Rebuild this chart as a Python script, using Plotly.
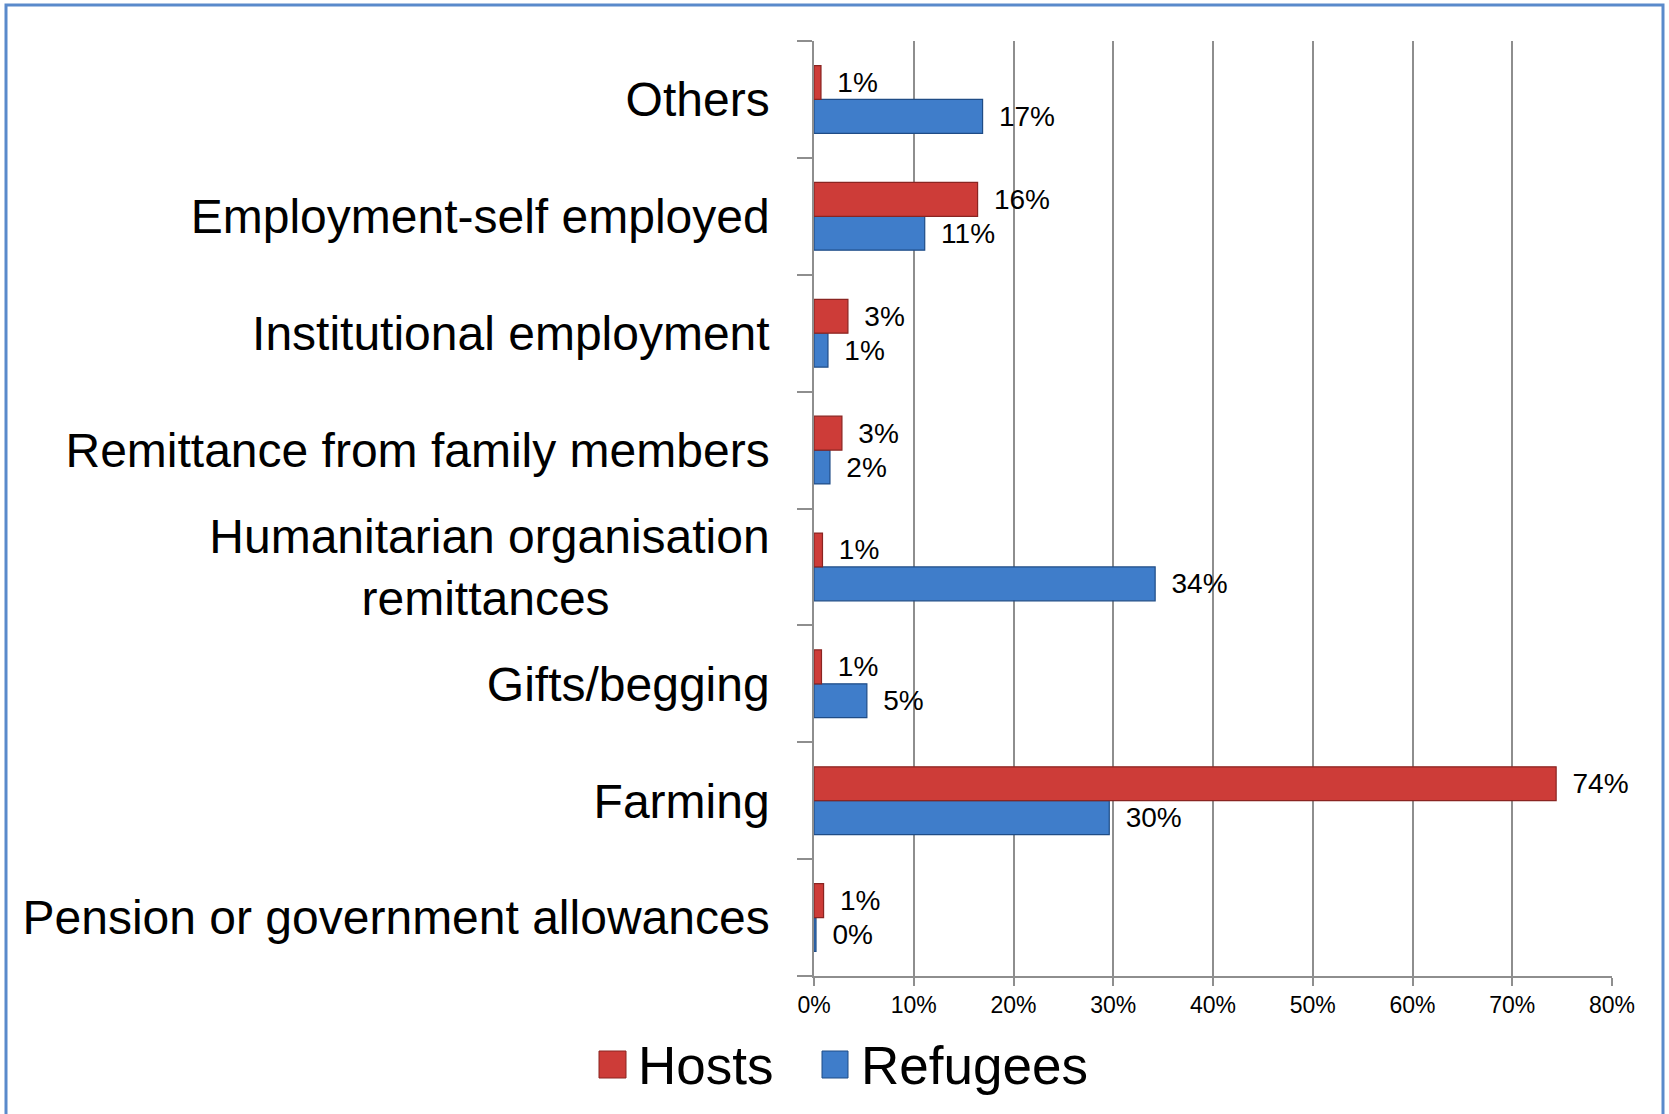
import plotly.graph_objects as go

categories = [
    "Pension or government allowances",
    "Farming",
    "Gifts/begging",
    "Humanitarian organisation<br>" + "\u00a0" * 12 + "remittances" + "\u00a0" * 12,
    "Remittance from family members",
    "Institutional employment",
    "Employment-self employed",
    "Others",
]
hosts = [0.96, 74.4, 0.75, 0.85, 2.8, 3.4, 16.4, 0.7]
refugees = [0.2, 29.6, 5.3, 34.2, 1.6, 1.4, 11.1, 16.9]
x_ticks = [0, 10, 20, 30, 40, 50, 60, 70, 80]

FONT = "Liberation Sans, Arial, sans-serif"
GRID = "#8E8E8E"
RED = "#CD3C38"
RED_EDGE = "#8A2421"
BLUE = "#3F7DCA"
BLUE_EDGE = "#1F4C86"

W, H = 1669, 1114
L, R, T, B = 814, 57, 41, 138
pw, ph = W - L - R, H - T - B


def px_x(x):
    return (x - L) / pw


def px_y(y):
    return (H - B - y) / ph


LABEL = "\u00a0\u2009%{x:.0f}%"

fig = go.Figure()
fig.add_trace(go.Bar(
    y=categories, x=refugees, name="Refugees", orientation="h",
    marker=dict(color=BLUE, line=dict(color=BLUE_EDGE, width=1.2)),
    texttemplate=LABEL, textposition="outside",
    textfont=dict(family=FONT, size=28, color="black"),
    constraintext="none", cliponaxis=False, showlegend=False,
))
fig.add_trace(go.Bar(
    y=categories, x=hosts, name="Hosts", orientation="h",
    marker=dict(color=RED, line=dict(color=RED_EDGE, width=1.2)),
    texttemplate=LABEL, textposition="outside",
    textfont=dict(family=FONT, size=28, color="black"),
    constraintext="none", cliponaxis=False, showlegend=False,
))

shapes = [
    # outer chart border
    dict(type="rect", xref="paper", yref="paper",
         x0=px_x(6), x1=px_x(1663), y0=px_y(1130), y1=px_y(5),
         line=dict(color="#5A8ACB", width=3), fillcolor="rgba(0,0,0,0)", layer="below"),
    # legend swatches
    dict(type="rect", xref="paper", yref="paper",
         x0=px_x(599), x1=px_x(626), y0=px_y(1078), y1=px_y(1051),
         line=dict(color=RED_EDGE, width=1), fillcolor=RED),
    dict(type="rect", xref="paper", yref="paper",
         x0=px_x(822), x1=px_x(848), y0=px_y(1078), y1=px_y(1051),
         line=dict(color=BLUE_EDGE, width=1), fillcolor=BLUE),
]
annotations = [
    dict(text="Hosts", xref="paper", yref="paper", x=px_x(636), y=px_y(1065),
         xanchor="left", yanchor="middle", showarrow=False,
         font=dict(family=FONT, size=53, color="black")),
    dict(text="Refugees", xref="paper", yref="paper", x=px_x(859), y=px_y(1065),
         xanchor="left", yanchor="middle", showarrow=False,
         font=dict(family=FONT, size=53, color="black")),
]

fig.update_layout(
    width=W, height=H,
    margin=dict(l=L, r=R, t=T, b=B),
    paper_bgcolor="white", plot_bgcolor="white",
    barmode="group", bargap=0.42, bargroupgap=0,
    font=dict(family=FONT, color="black"),
    shapes=shapes, annotations=annotations,
    showlegend=False,
    xaxis=dict(
        range=[0, 80], tickvals=x_ticks, ticktext=[f"{v}%" for v in x_ticks],
        showgrid=True, gridcolor=GRID, gridwidth=1.5,
        showline=True, linecolor=GRID, linewidth=1.5,
        ticks="outside", ticklen=8, tickcolor=GRID, tickwidth=1.5,
        tickfont=dict(family=FONT, size=23, color="black"),
        zeroline=False, fixedrange=True,
    ),
    yaxis=dict(
        categoryorder="array", categoryarray=categories,
        showline=True, linecolor=GRID, linewidth=1.5,
        ticks="outside", ticklen=15, tickcolor=GRID, tickwidth=1.5,
        tickson="boundaries", showgrid=False,
        tickfont=dict(family=FONT, size=48, color="black"),
        ticklabelstandoff=33, fixedrange=True,
    ),
)

fig.write_html("out.html")
